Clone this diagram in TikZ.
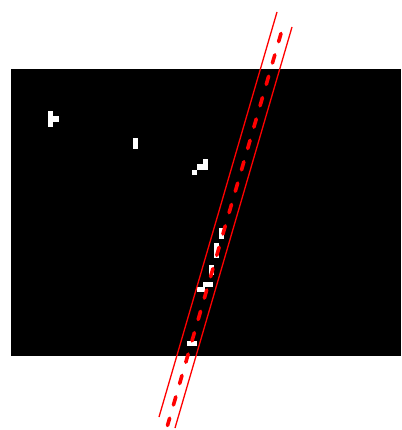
\documentclass[tikz,border=0pt]{standalone}
\begin{document}
\begin{tikzpicture}[x=1pt,y=-1pt,
  rail/.style={red,line width=1.3pt},
  track/.style={red,line width=3.6pt,line cap=round,dash pattern=on 8.5pt off 13.75pt},
  cell/.style={fill=white}]
\useasboundingbox (0,0) rectangle (401,430);
\fill[black] (11,69) rectangle (401,356);
\fill[cell] (48,111) rectangle (53,127);
\fill[cell] (53,116) rectangle (59,122);
\fill[cell] (133,138) rectangle (138,149);
\fill[cell] (203,159) rectangle (208,164);
\fill[cell] (197,164) rectangle (208,170);
\fill[cell] (192,170) rectangle (197,175);
\fill[cell] (219,228) rectangle (224,239);
\fill[cell] (214,243) rectangle (219,258);
\fill[cell] (209,265) rectangle (214,275);
\fill[cell] (203,282) rectangle (213,287);
\fill[cell] (197,287) rectangle (205,292);
\fill[cell] (187,341) rectangle (197,346);
\draw[rail] (277,12) -- (159,417);
\draw[rail] (292,27) -- (175,428);
\draw[track] (281,33.5) -- (167.5,425.5);
\end{tikzpicture}
\end{document}
